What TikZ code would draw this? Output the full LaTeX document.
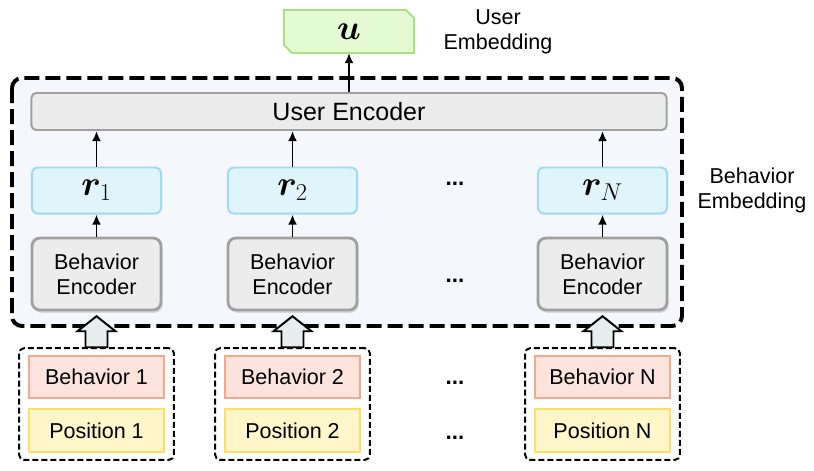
\documentclass[tikz,border=0pt]{standalone}
\usepackage{amsmath,bm}
\usepackage{fontspec}
\setmainfont{Liberation Sans}
\usetikzlibrary{arrows.meta,positioning,fit,shadows,backgrounds}

\definecolor{bgblue}{RGB}{244,248,252}
\definecolor{ufill}{RGB}{228,250,212}
\definecolor{uborder}{RGB}{168,226,128}
\definecolor{grayfill}{RGB}{236,236,236}
\definecolor{grayborder}{RGB}{160,160,160}
\definecolor{rfill}{RGB}{224,244,252}
\definecolor{rborder}{RGB}{160,216,246}
\definecolor{behfill}{RGB}{252,227,220}
\definecolor{behborder}{RGB}{245,168,138}
\definecolor{posfill}{RGB}{255,246,202}
\definecolor{posborder}{RGB}{255,224,100}
\definecolor{arrowfill}{RGB}{232,238,238}

\begin{document}
\begin{tikzpicture}[
    x=0.025cm, y=-0.025cm,
    font=\fontsize{15.3pt}{17.8pt}\selectfont,
    >={Latex[length=0.25cm,width=0.22cm]},
    link/.style={->, line width=1.4pt},
    embbox/.style={draw=rborder, fill=rfill, line width=1.4pt, rounded corners=0.15cm,
        minimum width=3.225cm, minimum height=1.15cm, inner sep=0pt,
        font=\fontsize{25pt}{25pt}\selectfont},
    encbox/.style={draw=grayborder, fill=grayfill, line width=2pt, rounded corners=0.2cm,
        minimum width=3.225cm, minimum height=1.8cm, align=center, inner sep=0pt,
        drop shadow={opacity=0.25, shadow xshift=0.04cm, shadow yshift=-0.07cm}},
    behbox/.style={draw=behborder, fill=behfill, line width=1.4pt,
        minimum width=3.375cm, minimum height=1.05cm, inner sep=0pt},
    posbox/.style={draw=posborder, fill=posfill, line width=1.4pt,
        minimum width=3.375cm, minimum height=1.075cm, inner sep=0pt},
    groupbox/.style={draw, line width=1.4pt, dash pattern=on 0.15cm off 0.075cm,
        rounded corners=0.12cm, inner xsep=0.22cm, inner ysep=0.17cm},
    blockarrow/.style={draw, fill=arrowfill, line width=1.4pt, line join=miter},
    dotsnode/.style={anchor=base, font=\fontsize{16pt}{16pt}\bfseries},
    outerbox/.style={draw, fill=bgblue, line width=2.8pt, dash pattern=on 0.375cm off 0.15cm,
        rounded corners=0.25cm}
]
\useasboundingbox (0,0) rectangle (814,470);

% =========================================================================
% 1. USER EMBEDDING
% =========================================================================
\node[minimum width=3.25cm, minimum height=1.075cm, outer sep=0pt,
      font=\fontsize{25pt}{25pt}\selectfont] (u) at (349, 31.5) {$\bm{u}$};
\node[align=center] (ulabel) at (498, 32) {User\\Embedding};

% =========================================================================
% 2. BEHAVIOR EMBEDDING BLOCK
% =========================================================================
\node[draw=grayborder, fill=grayfill, line width=1.4pt, rounded corners=0.12cm,
      minimum width=15.875cm, minimum height=0.925cm, inner sep=0pt,
      font=\fontsize{17.8pt}{20pt}\selectfont] (userenc) at (349, 111.5) {User Encoder};

% Columna 1
\node[embbox] (r1) at (96.5, 190.5) {$\bm{r}_1$};
\node[encbox] (enc1) at (96.5, 274) {Behavior\\Encoder};

% Columna 2
\node[embbox] (r2) at (292.5, 190.5) {$\bm{r}_2$};
\node[encbox] (enc2) at (292.5, 274) {Behavior\\Encoder};

% Columna N
\node[embbox] (rN) at (602.5, 190.5) {$\bm{r}_N$};
\node[encbox] (encN) at (602.5, 274) {Behavior\\Encoder};

% Puntos suspensivos
\node[dotsnode] (dotsr) at (455, 185) {...};
\node[dotsnode] (dotsenc) at (455, 282) {...};

% Flechas internas
\draw[link] (enc1) -- (r1);
\draw[link] (enc2) -- (r2);
\draw[link] (encN) -- (rN);
\draw[link] (r1) -- (r1 |- userenc.south);
\draw[link] (r2) -- (r2 |- userenc.south);
\draw[link] (rN) -- (rN |- userenc.south);
\draw[link] (userenc) -- (u);

\node[align=center] (blabel) at (752, 190) {Behavior\\Embedding};

% =========================================================================
% 3. INPUTS (Behavior + Position)
% =========================================================================
\node[behbox] (beh1) at (96.5, 377) {Behavior 1};
\node[posbox] (pos1) at (96.5, 430.5) {Position 1};
\node[groupbox, fit=(beh1)(pos1)] (grp1) {};

\node[behbox] (beh2) at (292.5, 377) {Behavior 2};
\node[posbox] (pos2) at (292.5, 430.5) {Position 2};
\node[groupbox, fit=(beh2)(pos2)] (grp2) {};

\node[behbox] (behN) at (602.5, 377) {Behavior N};
\node[posbox] (posN) at (602.5, 430.5) {Position N};
\node[groupbox, fit=(behN)(posN)] (grpN) {};

\node[dotsnode] (dotsbeh) at (455, 384) {...};
\node[dotsnode] (dotspos) at (455, 439) {...};

% Flechas de bloque (grupo -> encoder)
\draw[blockarrow] ([xshift=-0.275cm]grp1.north) -- ++(0,-16) -- ++(-8,0) -- ++(19,-15)
    -- ++(19,15) -- ++(-8,0) -- ++(0,16) -- cycle;
\draw[blockarrow] ([xshift=-0.275cm]grp2.north) -- ++(0,-16) -- ++(-8,0) -- ++(19,-15)
    -- ++(19,15) -- ++(-8,0) -- ++(0,16) -- cycle;
\draw[blockarrow] ([xshift=-0.275cm]grpN.north) -- ++(0,-16) -- ++(-8,0) -- ++(19,-15)
    -- ++(19,15) -- ++(-8,0) -- ++(0,16) -- cycle;

% =========================================================================
% 4. FONDOS
% =========================================================================
\begin{scope}[on background layer]
    \draw[outerbox] (12, 78) rectangle (682, 326);
    \draw[draw=uborder, fill=ufill, line width=1.4pt]
        (u.north west) -- ([xshift=-0.2cm]u.north east) -- ([yshift=-0.2cm]u.north east)
        -- (u.south east) -- ([xshift=0.2cm]u.south west) -- ([yshift=0.2cm]u.south west) -- cycle;
\end{scope}

\end{tikzpicture}
\end{document}
